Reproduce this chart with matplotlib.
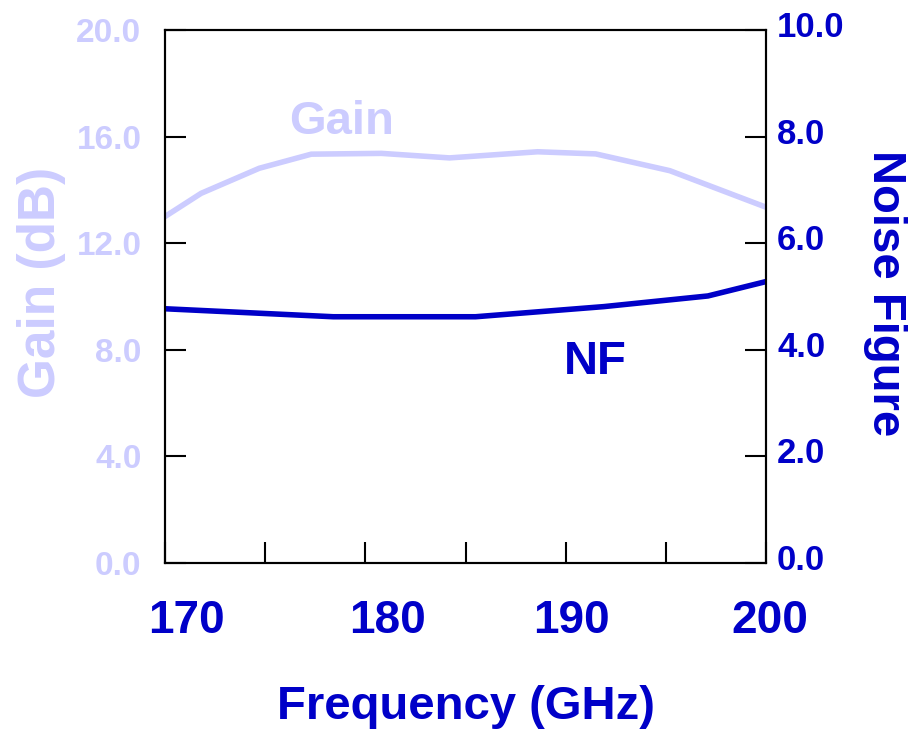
import matplotlib
matplotlib.use("Agg")
import matplotlib.pyplot as plt
from matplotlib.transforms import ScaledTranslation

# ── data ──────────────────────────────────────────────────────────────────────
gain_freq = [170.0, 171.8, 174.7, 177.3, 180.8, 184.2, 188.6, 191.5, 195.2, 200.0]
gain_db = [13.0, 13.87, 14.81, 15.34, 15.37, 15.2, 15.43, 15.35, 14.72, 13.35]

nf_freq = [170.0, 178.4, 185.5, 191.9, 197.1, 200.0]
nf_db = [4.77, 4.62, 4.62, 4.81, 5.01, 5.28]

x_ticks = [170, 175, 180, 185, 190, 195, 200]
x_labels = ["170", "", "180", "", "190", "", "200"]
gain_ticks = [0, 4, 8, 12, 16, 20]
nf_ticks = [0, 2, 4, 6, 8, 10]

GAIN_C = "#CCCCFF"
NF_C = "#0000C8"

plt.rcParams["font.family"] = ["Liberation Sans", "DejaVu Sans"]
plt.rcParams["font.weight"] = "bold"

fig = plt.figure(figsize=(9.24, 7.31), dpi=100)
ax = fig.add_axes([0.1786, 0.2298, 0.829 - 0.1786, 0.959 - 0.2298])
ax2 = ax.twinx()

ax.plot(gain_freq, gain_db, color=GAIN_C, lw=4, solid_joinstyle="miter")
ax2.plot(nf_freq, nf_db, color=NF_C, lw=4, solid_joinstyle="miter")

ax.set_xlim(170, 200)
ax.set_ylim(0, 20)
ax2.set_ylim(0, 10)

ax.set_xticks(x_ticks)
ax.set_xticklabels(x_labels, fontsize=33, color=NF_C, fontweight="bold")
ax.tick_params(axis="x", direction="in", length=15, width=1.5, pad=26)
# the labels in the original sit a little right of their ticks
for lab, dx in zip(ax.get_xticklabels(), [21, 0, 22, 0, 6, 0, 4]):
    lab.set_transform(lab.get_transform() + ScaledTranslation(dx / 100, 0, fig.dpi_scale_trans))

ax.set_yticks(gain_ticks)
ax.set_yticklabels([f"{t:.1f}" for t in gain_ticks], fontsize=24, color=GAIN_C, fontweight="bold")
ax.tick_params(axis="y", direction="in", length=15, width=1.5, pad=17)

ax2.set_yticks(nf_ticks)
ax2.set_yticklabels([f"{t:.1f}" for t in nf_ticks], fontsize=25, color=NF_C, fontweight="bold")
ax2.tick_params(axis="y", direction="in", length=15, width=1.5, pad=8)
for lab in ax2.get_yticklabels():
    lab.set_transform(lab.get_transform() + ScaledTranslation(0, 6 / 100, fig.dpi_scale_trans))

for a in (ax, ax2):
    for s in a.spines.values():
        s.set_linewidth(1.5)

ax.set_xlabel("Frequency (GHz)", fontsize=34, color=NF_C, fontweight="bold", labelpad=30)
ax.set_ylabel("Gain (dB)", fontsize=37, color=GAIN_C, fontweight="bold")
ax.yaxis.set_label_coords(-0.165, 0.527)

ax.text(1.198, 0.507, "Noise Figure", transform=ax.transAxes, fontsize=34, color=NF_C,
        fontweight="bold", rotation=270, ha="center", va="center")

ax.text(178.8, 16.55, "Gain", fontsize=34, color=GAIN_C, fontweight="bold",
        ha="center", va="center")
ax2.text(191.5, 3.78, "NF", fontsize=34, color=NF_C, fontweight="bold",
         ha="center", va="center")

fig.savefig("out.png", dpi=100)
